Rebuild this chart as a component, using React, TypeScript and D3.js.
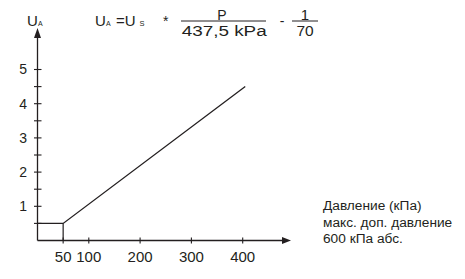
import React from "react";
import * as d3 from "d3";

const xTicks = [50, 100, 200, 300, 400];
const yTicks = [1, 2, 3, 4, 5];
const yMinorTicks = [0.5, 1.5, 2.5, 3.5, 4.5];
const curvePressure = [0, 50, 405];
const curveOutput = [0.5, 0.5, 4.5];
const legendLines = ["Давление (кПа)", "макс. доп. давление", "600 кПа абс."];

const W = 465;
const H = 279;
const FONT = "'Liberation Sans', Arial, Helvetica, sans-serif";
const INK = "#231f20";

export default function App() {
  const x = d3.scaleLinear().domain([0, 400]).range([37.5, 242.7]);
  const y = d3.scaleLinear().domain([0, 5]).range([240.5, 69.5]);
  const pts: [number, number][] = curvePressure.map((p, i) => [p, curveOutput[i]]);
  const line = d3
    .line<[number, number]>()
    .x((d) => x(d[0]))
    .y((d) => y(d[1]));
  const x0 = x(0);
  const y0 = y(0);
  return (
    <svg
      width={W}
      height={H}
      style={{ position: "fixed", left: 0, top: 0, background: "#fff" }}
      fontFamily={FONT}
    >
      <rect width={W} height={H} fill="#fff" />
      {/* y axis */}
      <line x1={x0} y1={y0} x2={x0} y2={37} stroke={INK} strokeWidth={1.3} />
      <path d={`M${x0},28 L${x0 - 3.5},38 L${x0 + 3.5},38 Z`} fill={INK} />
      {/* x axis */}
      <line x1={x0} y1={y0} x2={283} y2={y0} stroke={INK} strokeWidth={1.3} />
      <path d={`M291,${y0} L282,${y0 - 3.5} L282,${y0 + 3.5} Z`} fill={INK} />
      {/* y ticks */}
      {[...yTicks, ...yMinorTicks].map((t) => (
        <line key={"yt" + t} x1={x0 - 3.5} x2={x0 + 4} y1={y(t)} y2={y(t)} stroke={INK} strokeWidth={1.1} />
      ))}
      {yTicks.map((t) => (
        <text key={"yl" + t} x={27} y={y(t) + 4.8} fontSize={14} textAnchor="end" fill={INK}>
          {t}
        </text>
      ))}
      {/* x ticks */}
      {xTicks.map((t) => (
        <line key={"xt" + t} x1={x(t)} x2={x(t)} y1={y0 - 3} y2={y0 + 3} stroke={INK} strokeWidth={1.1} />
      ))}
      {xTicks.map((t) => (
        <text key={"xl" + t} x={x(t)} y={261.5} fontSize={15} textAnchor="middle" fill={INK}>
          {t}
        </text>
      ))}
      {/* vertical at 50 */}
      <line x1={x(50)} x2={x(50)} y1={y(0.5)} y2={y0} stroke={INK} strokeWidth={1.2} />
      {/* curve */}
      <path d={line(pts) || ""} fill="none" stroke={INK} strokeWidth={1.3} />
      {/* y axis label */}
      <text x={27} y={25.5} fontSize={15} fill={INK}>U</text>
      <text x={38} y={25.5} fontSize={7} fill={INK}>A</text>
      {/* formula */}
      <text x={95} y={25.5} fontSize={15} fill={INK}>U</text>
      <text x={106} y={25.5} fontSize={7} fill={INK}>A</text>
      <text x={116} y={25.5} fontSize={15} fill={INK}>=U</text>
      <text x={139.5} y={25.5} fontSize={7.5} fill={INK}>S</text>
      <text x={163} y={26} fontSize={14} fill={INK}>*</text>
      <text x={222} y={19.5} fontSize={14} textAnchor="middle" fill={INK}>P</text>
      <line x1={181} x2={266} y1={21} y2={21} stroke={INK} strokeWidth={1} />
      <text x={181.7} y={36} fontSize={15.5} textLength={85} lengthAdjust="spacingAndGlyphs" fill={INK}>
        437,5 kPa
      </text>
      <text x={282} y={26} fontSize={14} textAnchor="middle" fill={INK}>-</text>
      <text x={305} y={19.5} fontSize={15} textAnchor="middle" fill={INK}>1</text>
      <line x1={292} x2={318} y1={21} y2={21} stroke={INK} strokeWidth={1} />
      <text x={305} y={36} fontSize={15.5} textAnchor="middle" fill={INK}>70</text>
      {/* legend text */}
      {legendLines.map((s, i) => (
        <text key={s} x={323} y={210 + i * 16.5} fontSize={13.7} fill={INK}>
          {s}
        </text>
      ))}
    </svg>
  );
}
